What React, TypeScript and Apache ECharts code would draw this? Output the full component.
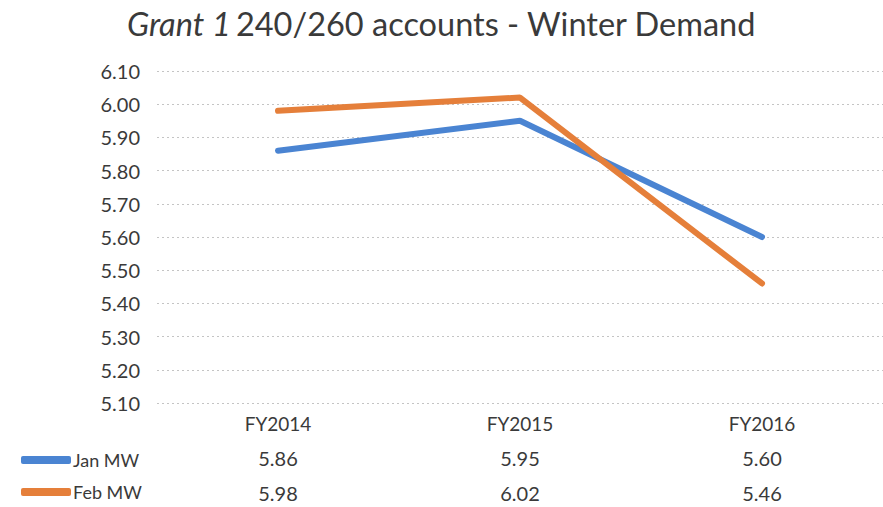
import React, { useEffect, useRef } from "react";
import * as echarts from "echarts";

const categories = ["FY2014", "FY2015", "FY2016"];
const janMW = [5.86, 5.95, 5.6];
const febMW = [5.98, 6.02, 5.46];
const seriesNames = ["Jan MW", "Feb MW"];

const FONT = "Lato, 'Open Sans', sans-serif";
const TEXT = "#3a3a3a";

export default function App() {
  const ref = useRef<HTMLDivElement>(null);
  useEffect(() => {
    if (!ref.current) return;
    const chart = echarts.init(ref.current, null, { renderer: "svg" });
    const tableAxis = (vals: number[], offset: number) => ({
      type: "category",
      data: categories,
      position: "bottom",
      offset,
      axisLine: { show: false },
      axisTick: { show: false },
      splitLine: { show: false },
      axisLabel: {
        margin: 10,
        fontSize: 20,
        color: TEXT,
        fontFamily: FONT,
        formatter: (_v: string, i: number) => vals[i].toFixed(2),
      },
    });
    chart.setOption({
      animation: false,
      backgroundColor: "#ffffff",
      textStyle: { fontFamily: FONT },
      title: {
        left: "center",
        top: 2,
        text: "{i|Grant 1} {n|240/260 accounts - Winter Demand}",
        textStyle: {
          fontWeight: "normal",
          rich: {
            i: { fontStyle: "italic", fontWeight: "normal", fontSize: 32.5, color: TEXT, fontFamily: FONT },
            n: { fontWeight: "normal", fontSize: 32.5, color: TEXT, fontFamily: FONT },
          },
        },
      },
      legend: {
        orient: "vertical",
        left: 16,
        top: 446,
        itemGap: 14,
        itemWidth: 50,
        itemHeight: 8,
        icon: "roundRect",
        data: seriesNames,
        textStyle: { fontSize: 18, color: TEXT, fontFamily: FONT, padding: [0, 0, 0, -3] },
      },
      grid: { left: 157, top: 71, height: 332, width: 733 },
      xAxis: [
        {
          type: "category",
          data: categories,
          axisLine: { show: false },
          axisTick: { show: false },
          axisLabel: { margin: 11, fontSize: 19, color: TEXT, fontFamily: FONT },
        },
        tableAxis(janMW, 35),
        tableAxis(febMW, 70),
      ],
      yAxis: {
        type: "value",
        min: 5.1,
        max: 6.1,
        interval: 0.1,
        axisLine: { show: false },
        axisTick: { show: false },
        axisLabel: {
          margin: 17,
          fontSize: 20,
          color: TEXT,
          fontFamily: FONT,
          formatter: (v: number) => v.toFixed(2),
        },
        splitLine: { lineStyle: { color: "#c4c4c4", type: [2, 3], width: 1 } },
      },
      series: [
        {
          name: seriesNames[0],
          type: "line",
          data: janMW,
          showSymbol: false,
          symbol: "none",
          color: "#4a84d2",
          lineStyle: { width: 6, color: "#4a84d2", cap: "round" },
          z: 2,
        },
        {
          name: seriesNames[1],
          type: "line",
          data: febMW,
          showSymbol: false,
          symbol: "none",
          color: "#e57f3a",
          lineStyle: { width: 6, color: "#e57f3a", cap: "round" },
          z: 3,
        },
      ],
    });
    return () => chart.dispose();
  }, []);
  return (
    <div
      ref={ref}
      style={{ position: "absolute", left: 0, top: 0, width: 883, height: 507 }}
    />
  );
}
